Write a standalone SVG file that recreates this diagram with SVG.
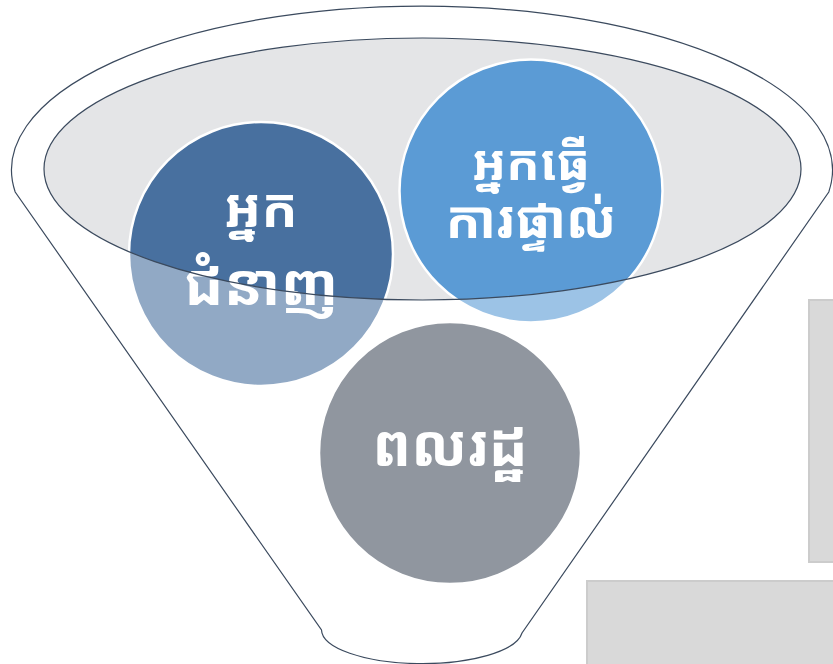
<svg xmlns="http://www.w3.org/2000/svg" width="833" height="664" viewBox="0 0 833 664">
<style>
.lbl{font-family:"Noto Sans Khmer","Noto Serif Khmer","Khmer OS","Khmer OS System","Leelawadee UI","DejaVu Sans",sans-serif;font-weight:bold;fill:#ffffff;text-anchor:middle}
.edge{fill:none;stroke:#3b4a5e;stroke-width:1.2}
.circ{stroke:#ffffff;stroke-width:2.5}
.side{fill:#d9d9d9;stroke:#cccccc;stroke-width:2}
</style>
<defs>
<path id="funnel" d="M15.2 192 A410.5 164 0 1 1 828.8 192 L522 633 A100.5 34 0 0 1 321.5 630 Z"/>
</defs>
<rect width="833" height="664" fill="#ffffff"/>
<g id="side-panels">
<rect class="side" x="809" y="300" width="30" height="262"/>
<rect class="side" x="587" y="581" width="260" height="90"/>
</g>
<g id="funnel-body">
<use href="#funnel" fill="#ffffff"/>
<ellipse cx="422.5" cy="169" rx="378.5" ry="131" fill="#e4e5e7"/>
</g>
<g id="node-expert">
<circle class="circ" cx="261" cy="254" r="132" fill="#48709f"/>
<text class="lbl" x="261" y="227" font-size="54">អ្នក</text>
<text class="lbl" x="261" y="305" font-size="58">ជំនាញ</text>
</g>
<g id="node-direct">
<circle class="circ" cx="531" cy="191" r="131.5" fill="#5b9bd5"/>
<text class="lbl" x="531" y="180" font-size="50">អ្នកធ្វើ</text>
<text class="lbl" x="531" y="238" font-size="52">ការផ្ទាល់</text>
</g>
<g id="node-citizen">
<circle class="circ" cx="450" cy="453" r="131" fill="#46505f"/>
<text class="lbl" x="450" y="466" font-size="58">ពលរដ្ឋ</text>
</g>
<g id="funnel-front">
<path d="M15.2 192 A410.5 164 0 1 1 828.8 192 L522 633 A100.5 34 0 0 1 321.5 630 Z M44 169 A378.5 131 0 1 0 801 169 A378.5 131 0 1 0 44 169 Z" fill="#ffffff" fill-opacity="0.4" fill-rule="evenodd"/>
<use href="#funnel" class="edge"/>
<ellipse class="edge" cx="422.5" cy="169" rx="378.5" ry="131"/>
</g>
</svg>
